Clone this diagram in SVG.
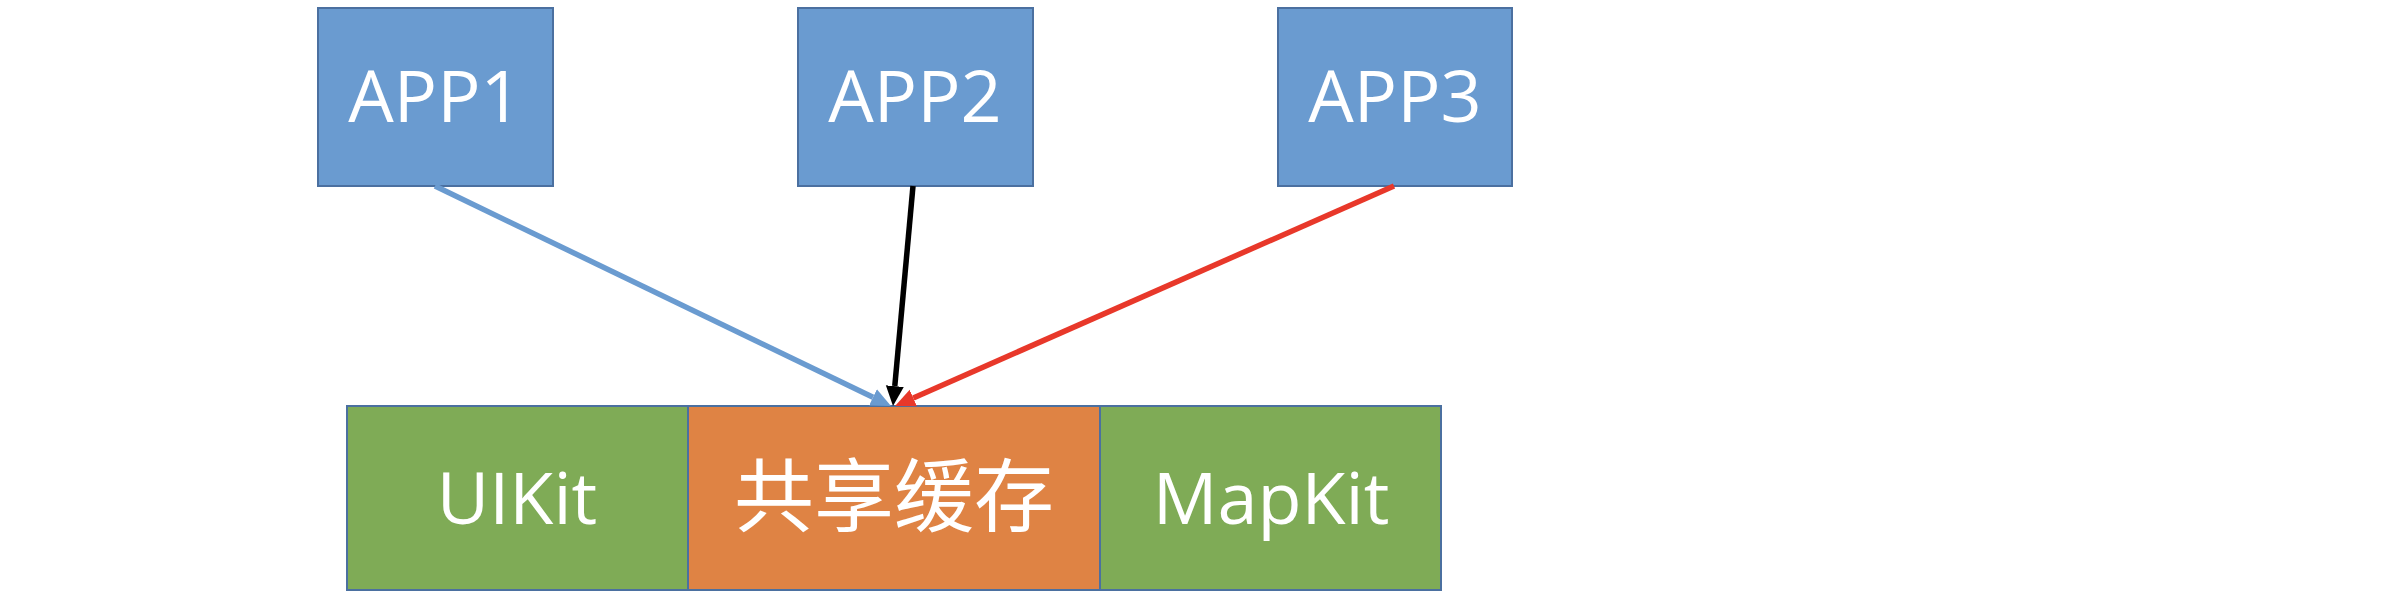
<svg xmlns="http://www.w3.org/2000/svg" width="2386" height="598" viewBox="0 0 2386 598">
<style>
.box{stroke:#4B70A0;stroke-width:2}
.app{fill:#6A9BD0}
.kit{fill:#7FAB56}
.cache{fill:#DF8344}
.lbl{font-family:"Open Sans","Liberation Sans",sans-serif;font-size:72px;font-weight:500;fill:#FFFFFF;text-anchor:middle}
.cjk{font-family:"Noto Sans CJK SC",sans-serif;font-size:80px;fill:#FFFFFF;text-anchor:middle}
.conn{fill:none;stroke-width:5.5;stroke-linecap:butt}
</style>
<defs>
<marker id="ahBlue" markerUnits="userSpaceOnUse" markerWidth="22" markerHeight="22" viewBox="0 -11 22 22" refX="0" refY="0" orient="auto"><path d="M0,-9 L20,0 L0,9 z" fill="#6A9BD0"/></marker>
<marker id="ahBlack" markerUnits="userSpaceOnUse" markerWidth="22" markerHeight="22" viewBox="0 -11 22 22" refX="0" refY="0" orient="auto"><path d="M0,-9 L20,0 L0,9 z" fill="#000000"/></marker>
<marker id="ahRed" markerUnits="userSpaceOnUse" markerWidth="22" markerHeight="22" viewBox="0 -11 22 22" refX="0" refY="0" orient="auto"><path d="M0,-9 L20,0 L0,9 z" fill="#E8382A"/></marker>
</defs>
<rect width="2386" height="598" fill="#FFFFFF"/>
<g id="app1"><rect class="box app" x="318" y="8" width="235" height="178"/><text class="lbl" x="435" y="122">APP1</text></g>
<g id="app2"><rect class="box app" x="798" y="8" width="235" height="178"/><text class="lbl" x="915" y="122">APP2</text></g>
<g id="app3"><rect class="box app" x="1278" y="8" width="234" height="178"/><text class="lbl" x="1395" y="122">APP3</text></g>
<g id="uikit"><rect class="box kit" x="347" y="406" width="341" height="184"/><text class="lbl" x="517" y="524">UIKit</text></g>
<g id="cache"><rect class="box cache" x="688" y="406" width="412" height="184"/><text class="cjk" x="894" y="525">共享缓存</text></g>
<g id="mapkit"><rect class="box kit" x="1100" y="406" width="341" height="184"/><text class="lbl" x="1271" y="524">MapKit</text></g>
<g id="connectors">
<line class="conn" x1="435" y1="186" x2="873" y2="397.3" stroke="#6A9BD0" marker-end="url(#ahBlue)"/>
<line class="conn" x1="913" y1="186" x2="894.8" y2="386.1" stroke="#000000" marker-end="url(#ahBlack)"/>
<line class="conn" x1="1394" y1="186" x2="913.3" y2="397.9" stroke="#E8382A" marker-end="url(#ahRed)"/>
</g>
</svg>
